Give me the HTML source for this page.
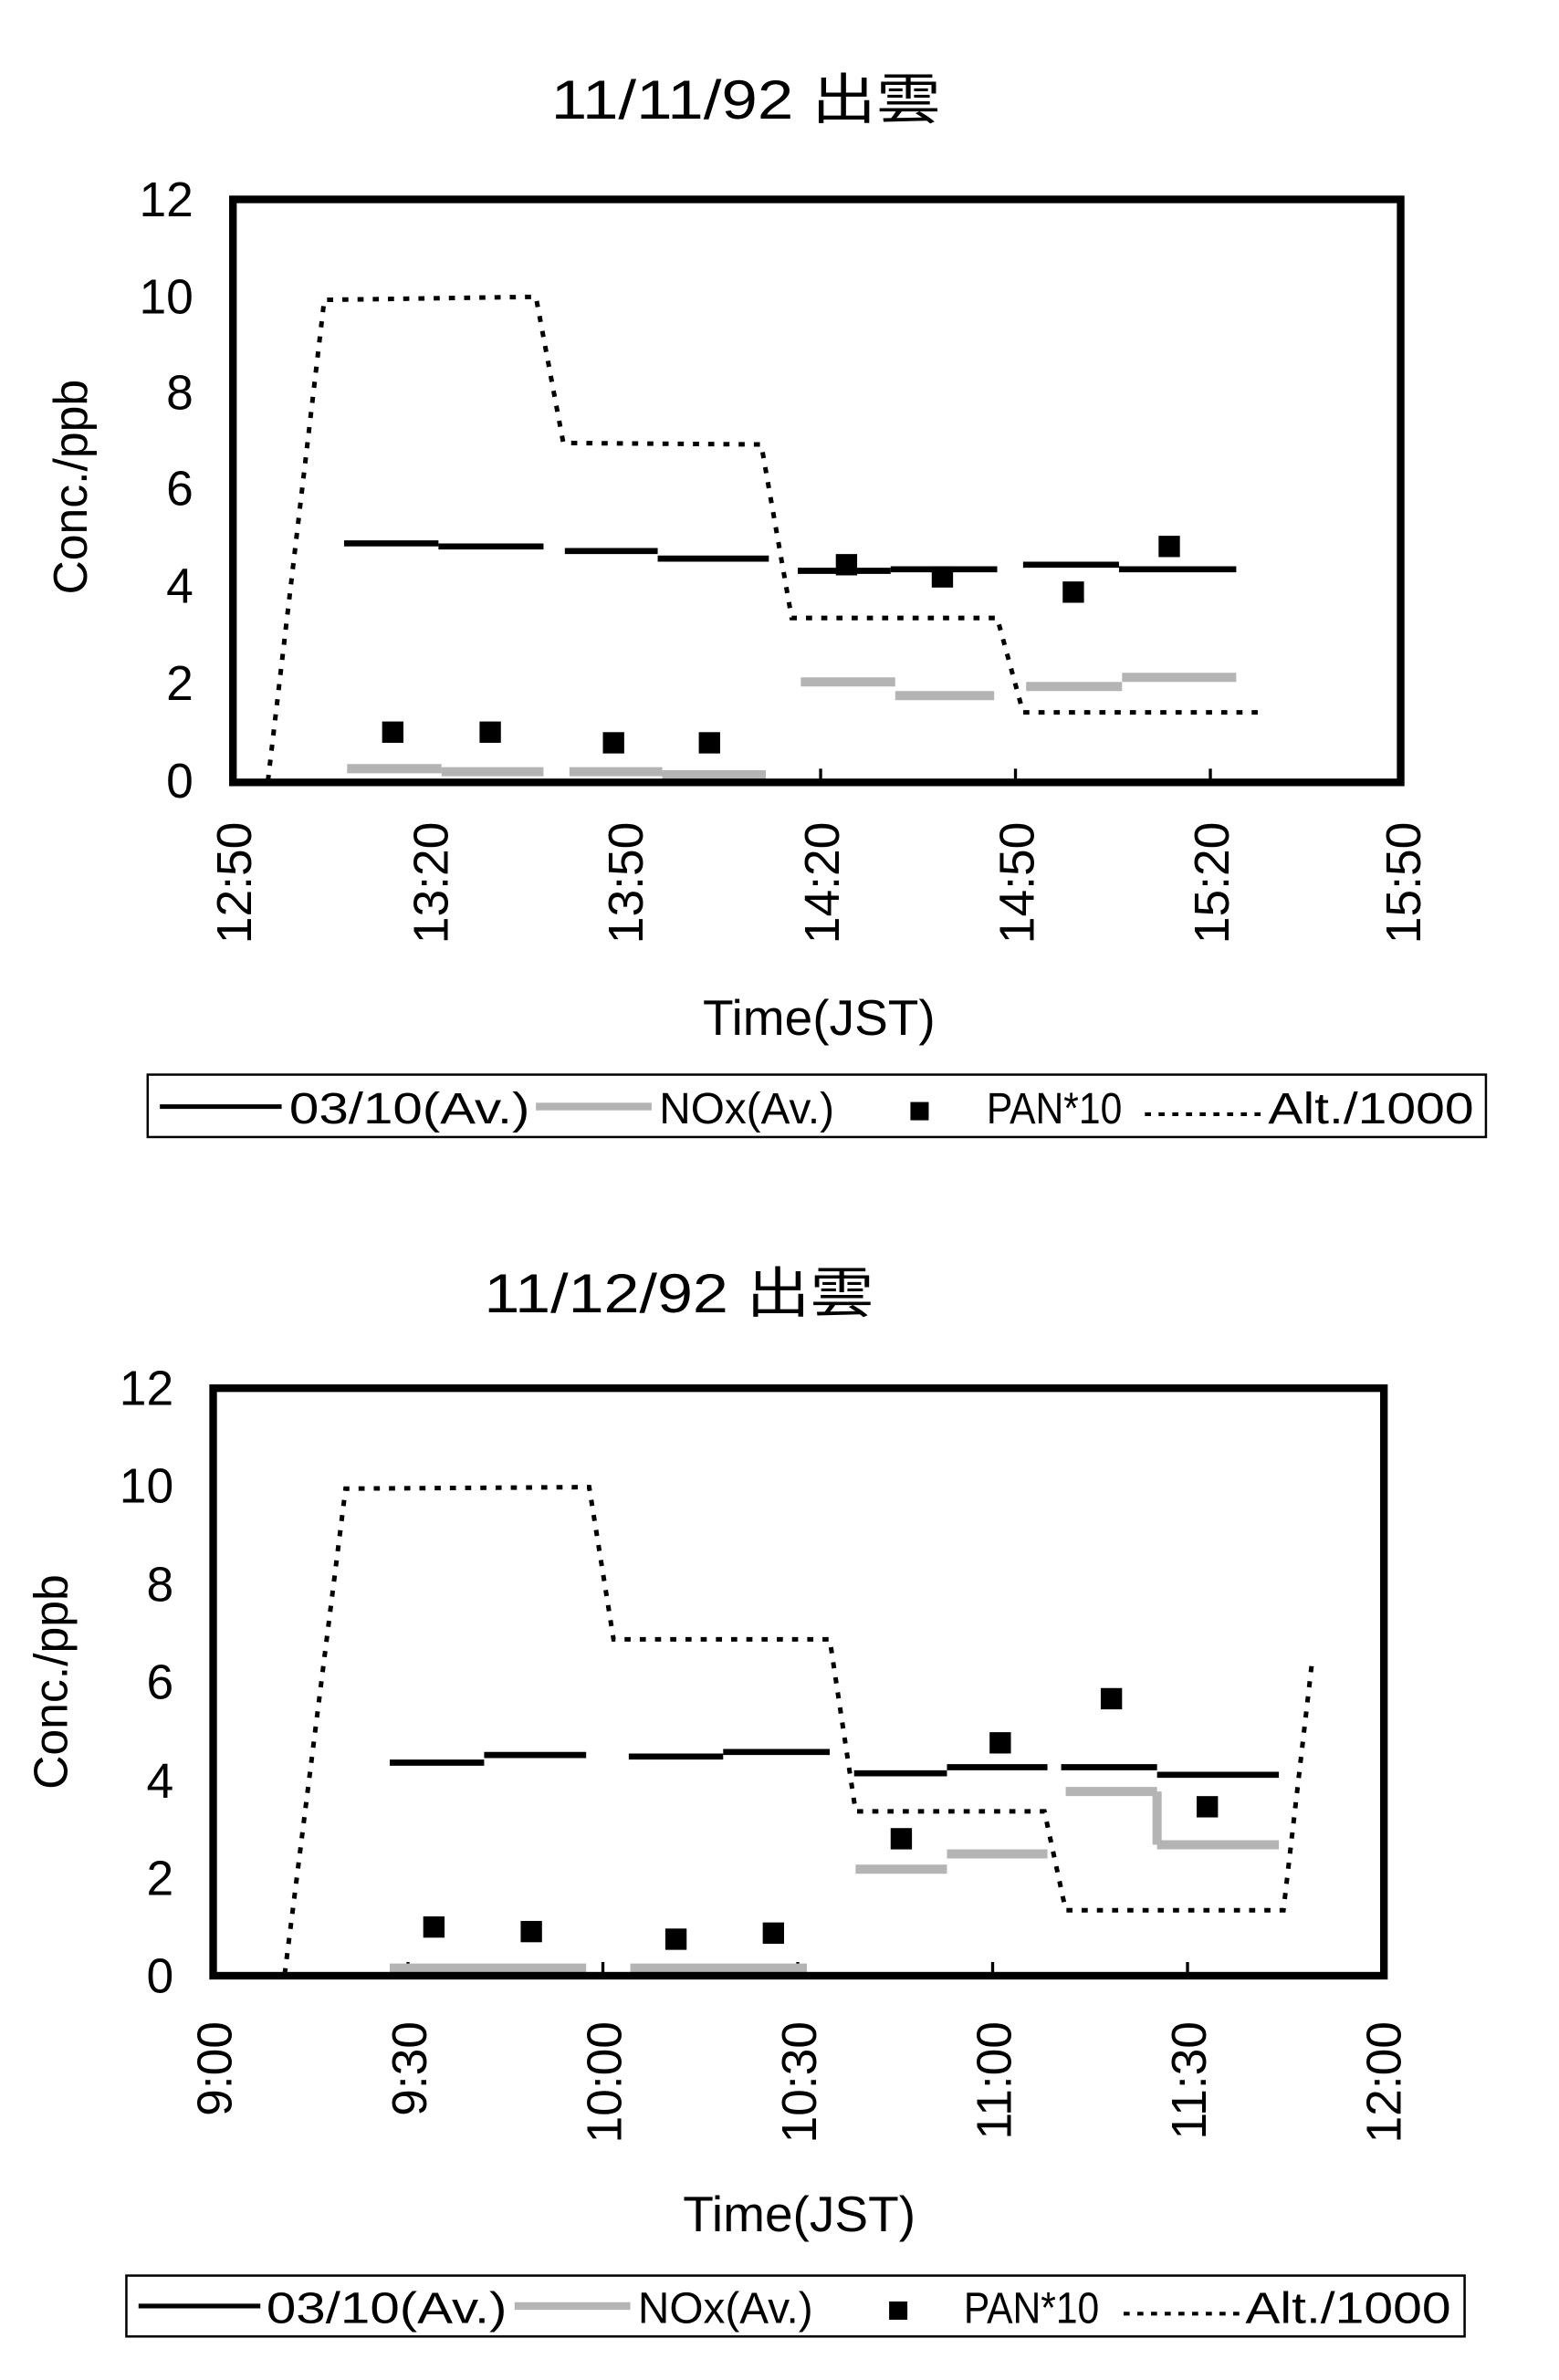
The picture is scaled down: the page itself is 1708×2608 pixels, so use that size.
<!DOCTYPE html>
<html><head><meta charset="utf-8"><style>
html,body{margin:0;padding:0;background:#fff;}
svg{display:block;}
text{font-family:"Liberation Sans","Noto Sans CJK JP",sans-serif;fill:#000;}
</style></head><body>
<svg width="1708" height="2608" viewBox="0 0 1024 1563.6" preserveAspectRatio="none" xmlns="http://www.w3.org/2000/svg">
<!-- ===== Chart 1 ===== -->
<text x="362" y="78" font-size="36" textLength="256" lengthAdjust="spacingAndGlyphs">11/11/92 出雲</text>
<g font-size="32" text-anchor="end">
<text x="127" y="142">12</text><text x="127" y="206">10</text><text x="127" y="269">8</text>
<text x="127" y="332">6</text><text x="127" y="396">4</text><text x="127" y="460">2</text><text x="127" y="524">0</text>
</g>
<text transform="translate(57,320) rotate(-90)" font-size="31" text-anchor="middle">Conc./ppb</text>
<g font-size="32" text-anchor="end">
<text transform="translate(165,540) rotate(-90)">12:50</text>
<text transform="translate(294,540) rotate(-90)">13:20</text>
<text transform="translate(422,540) rotate(-90)">13:50</text>
<text transform="translate(551,540) rotate(-90)">14:20</text>
<text transform="translate(679,540) rotate(-90)">14:50</text>
<text transform="translate(807,540) rotate(-90)">15:20</text>
<text transform="translate(933,540) rotate(-90)">15:50</text>
</g>
<text x="538" y="680" font-size="33" text-anchor="middle">Time(JST)</text>
<g stroke="#000" stroke-width="2">
<line x1="539" y1="513" x2="539" y2="505"/><line x1="667" y1="513" x2="667" y2="505"/><line x1="795" y1="513" x2="795" y2="505"/>
</g>
<polyline fill="none" stroke="#000" stroke-width="3" stroke-dasharray="4 6" points="176,513 213,197 352,195 370,291 500,292 520,406 655,406 672,468 832,468"/>
<g stroke="#b4b4b4" stroke-width="6">
<line x1="228" y1="505" x2="290" y2="505"/><line x1="290" y1="507" x2="357" y2="507"/>
<line x1="374" y1="507" x2="435" y2="507"/><line x1="435" y1="509" x2="503" y2="509"/>
<line x1="526" y1="448" x2="588" y2="448"/><line x1="588" y1="457" x2="653" y2="457"/>
<line x1="674" y1="451" x2="737" y2="451"/><line x1="737" y1="445" x2="812" y2="445"/>
</g>
<g stroke="#000" stroke-width="4">
<line x1="226" y1="357" x2="288" y2="357"/><line x1="288" y1="359" x2="357" y2="359"/>
<line x1="371" y1="362" x2="432" y2="362"/><line x1="432" y1="367" x2="505" y2="367"/>
<line x1="524" y1="375" x2="585" y2="375"/><line x1="585" y1="374" x2="655" y2="374"/>
<line x1="672" y1="371" x2="735" y2="371"/><line x1="735" y1="374" x2="812" y2="374"/>
</g>
<g fill="#000">
<rect x="251" y="474" width="14" height="14"/><rect x="315" y="474" width="14" height="14"/>
<rect x="396" y="481" width="14" height="14"/><rect x="459" y="481" width="14" height="14"/>
<rect x="549" y="364" width="14" height="14"/><rect x="612" y="372" width="14" height="14"/>
<rect x="698" y="382" width="14" height="14"/><rect x="761" y="352" width="14" height="14"/>
</g>
<rect x="153" y="131" width="767" height="383" fill="none" stroke="#000" stroke-width="5"/>
<!-- legend 1 -->
<rect x="97" y="706" width="879" height="41" fill="none" stroke="#000" stroke-width="1.5"/>
<line x1="105" y1="727" x2="185" y2="727" stroke="#000" stroke-width="3"/>
<text x="190" y="738" font-size="29" textLength="158" lengthAdjust="spacingAndGlyphs">03/10(Av.)</text>
<line x1="352" y1="727" x2="428" y2="727" stroke="#b4b4b4" stroke-width="5"/>
<text x="433" y="738" font-size="29" textLength="115" lengthAdjust="spacingAndGlyphs">NOx(Av.)</text>
<rect x="598" y="724" width="12" height="12" fill="#000"/>
<text x="648" y="738" font-size="29" textLength="89" lengthAdjust="spacingAndGlyphs">PAN*10</text>
<line x1="752" y1="732" x2="828" y2="732" stroke="#000" stroke-width="2.5" stroke-dasharray="4 5"/>
<text x="833" y="738" font-size="29" textLength="135" lengthAdjust="spacingAndGlyphs">Alt./1000</text>

<!-- ===== Chart 2 ===== -->
<text x="318" y="862" font-size="36" textLength="256" lengthAdjust="spacingAndGlyphs">11/12/92 出雲</text>
<g font-size="32" text-anchor="end">
<text x="114" y="923">12</text><text x="114" y="987">10</text><text x="114" y="1052">8</text>
<text x="114" y="1116">6</text><text x="114" y="1181">4</text><text x="114" y="1245">2</text><text x="114" y="1309">0</text>
</g>
<text transform="translate(44,1105) rotate(-90)" font-size="31" text-anchor="middle">Conc./ppb</text>
<g font-size="32" text-anchor="end">
<text transform="translate(152,1328) rotate(-90)">9:00</text>
<text transform="translate(280,1328) rotate(-90)">9:30</text>
<text transform="translate(408,1328) rotate(-90)">10:00</text>
<text transform="translate(536,1328) rotate(-90)">10:30</text>
<text transform="translate(664,1328) rotate(-90)">11:00</text>
<text transform="translate(792,1328) rotate(-90)">11:30</text>
<text transform="translate(920,1328) rotate(-90)">12:00</text>
</g>
<text x="525" y="1466" font-size="33" text-anchor="middle">Time(JST)</text>
<g stroke="#000" stroke-width="2">
<line x1="268" y1="1298" x2="268" y2="1289"/><line x1="396" y1="1298" x2="396" y2="1289"/><line x1="524" y1="1298" x2="524" y2="1289"/><line x1="652" y1="1298" x2="652" y2="1289"/><line x1="780" y1="1298" x2="780" y2="1289"/>
</g>
<polyline fill="none" stroke="#000" stroke-width="3" stroke-dasharray="4 6" points="187,1297 227,978 387,977 403,1077 545,1077 562,1190 686,1190 700,1255 843,1255 862,1090"/>
<g stroke="#b4b4b4" stroke-width="6">
<line x1="256" y1="1293" x2="385" y2="1293"/><line x1="414" y1="1293" x2="530" y2="1293"/>
<line x1="562" y1="1228" x2="622" y2="1228"/><line x1="622" y1="1218" x2="688" y2="1218"/>
<line x1="700" y1="1177" x2="760" y2="1177"/><line x1="760" y1="1177" x2="760" y2="1212"/><line x1="760" y1="1212" x2="840" y2="1212"/>
</g>
<g stroke="#000" stroke-width="4">
<line x1="256" y1="1158" x2="318" y2="1158"/><line x1="318" y1="1153" x2="385" y2="1153"/>
<line x1="413" y1="1154" x2="475" y2="1154"/><line x1="475" y1="1151" x2="545" y2="1151"/>
<line x1="561" y1="1165" x2="622" y2="1165"/><line x1="622" y1="1161" x2="688" y2="1161"/>
<line x1="697" y1="1161" x2="760" y2="1161"/><line x1="760" y1="1166" x2="840" y2="1166"/>
</g>
<g fill="#000">
<rect x="278" y="1259" width="14" height="14"/><rect x="342" y="1262" width="14" height="14"/>
<rect x="437" y="1267" width="14" height="14"/><rect x="501" y="1263" width="14" height="14"/>
<rect x="585" y="1201" width="14" height="14"/><rect x="650" y="1138" width="14" height="14"/>
<rect x="723" y="1109" width="14" height="14"/><rect x="786" y="1180" width="14" height="14"/>
</g>
<rect x="140" y="912" width="769" height="386" fill="none" stroke="#000" stroke-width="5"/>
<!-- legend 2 -->
<rect x="83" y="1495" width="879" height="40" fill="none" stroke="#000" stroke-width="1.5"/>
<line x1="91" y1="1515" x2="171" y2="1515" stroke="#000" stroke-width="3"/>
<text x="175" y="1526" font-size="29" textLength="158" lengthAdjust="spacingAndGlyphs">03/10(Av.)</text>
<line x1="338" y1="1515" x2="414" y2="1515" stroke="#b4b4b4" stroke-width="5"/>
<text x="419" y="1526" font-size="29" textLength="115" lengthAdjust="spacingAndGlyphs">NOx(Av.)</text>
<rect x="584" y="1512" width="12" height="12" fill="#000"/>
<text x="633" y="1526" font-size="29" textLength="89" lengthAdjust="spacingAndGlyphs">PAN*10</text>
<line x1="738" y1="1520" x2="814" y2="1520" stroke="#000" stroke-width="2.5" stroke-dasharray="4 5"/>
<text x="818" y="1526" font-size="29" textLength="135" lengthAdjust="spacingAndGlyphs">Alt./1000</text>
</svg>
</body></html>
